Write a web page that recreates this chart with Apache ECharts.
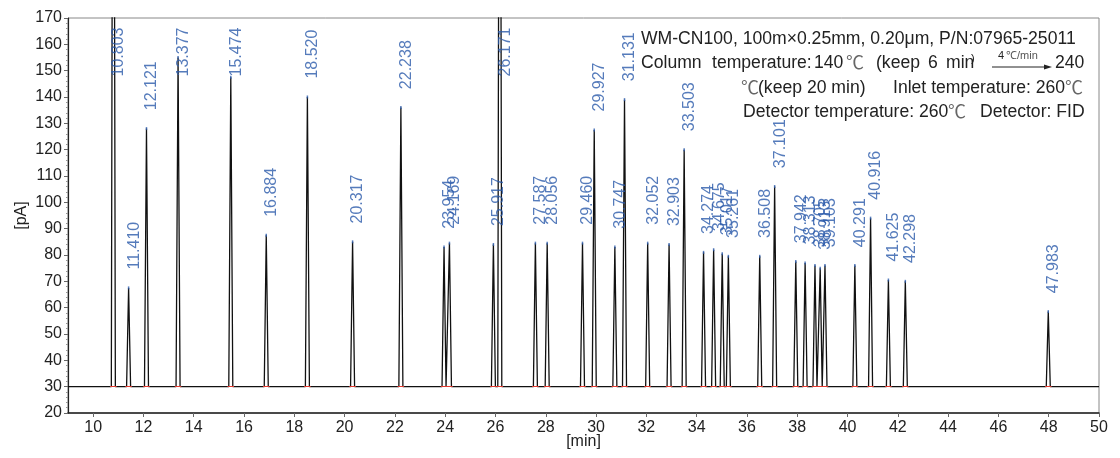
<!DOCTYPE html>
<html>
<head>
<meta charset="utf-8">
<script src="https://cdn.jsdelivr.net/npm/echarts@6/dist/echarts.min.js"></script>
<style>
  html, body { margin: 0; padding: 0; background: #fff; }
  #chart { width: 1120px; height: 458px; }
</style>
</head>
<body>
<div id="chart"></div>
<script>
// retention times (min) and apex heights (pA)
var retentionTimes = [10.803, 11.410, 12.121, 13.377, 15.474, 16.884, 18.520, 20.317, 22.238,
    23.954, 24.169, 25.917, 26.171, 27.587, 28.056, 29.460, 29.927, 30.747, 31.131, 32.052,
    32.903, 33.503, 34.274, 34.675, 35.017, 35.261, 36.508, 37.101, 37.942, 38.313, 38.705,
    38.913, 39.103, 40.291, 40.916, 41.625, 42.298, 47.983];
var peakHeights = [400, 67.5, 128, 155, 147.5, 87.5, 140, 85, 136,
    83, 84.5, 84, 400, 84.5, 84.5, 84.5, 127.5, 83, 139, 84.5,
    84, 120, 81, 82, 80.5, 79.5, 79.5, 106, 77.5, 77, 76,
    75, 76, 76, 94, 70.5, 70, 58.5];
var baselineLevel = 30;
var xTickLabels = [10, 12, 14, 16, 18, 20, 22, 24, 26, 28, 30, 32, 34, 36, 38, 40, 42, 44, 46, 48, 50];

var chart = echarts.init(document.getElementById('chart'));

// signal trace: baseline with a narrow peak at every retention time
var halfWidth = 0.08;
var trace = [[9, baselineLevel]];
retentionTimes.forEach(function (t, i) {
    trace.push([t - halfWidth, baselineLevel]);
    trace.push([t, peakHeights[i]]);
    trace.push([t + halfWidth, baselineLevel]);
});
trace.push([50, baselineLevel]);

// integration marks under each peak
var baseMarks = retentionTimes.map(function (t) {
    return { coords: [[t - 0.13, baselineLevel], [t + 0.13, baselineLevel]] };
});

// label anchors: a little above the apex, but kept under the top of the frame
var labelAnchors = retentionTimes.map(function (t, i) {
    return { value: [t, Math.min(peakHeights[i] + 6.8, 147.6)], name: t.toFixed(3) };
});

var blue = '#2a5aaa';
var textFont = '17.6px "Liberation Sans", Arial, sans-serif';
var degFont = '18px "Noto Sans CJK SC", sans-serif';
var dark = '#222';

function txt(x, y, s, font, color) {
    return {
        type: 'text', x: x, y: y, z: 10,
        style: { text: s, font: font || textFont, fill: color || dark, verticalAlign: 'middle' }
    };
}
function deg(x, y) {
    return txt(x, y - 1, '℃', degFont, '#666');
}

var option = {
    backgroundColor: '#fff',
    animation: false,
    grid: {
        left: 68, right: 21, top: 18, bottom: 45, containLabel: false, outerBoundsMode: 'none',
        show: true, borderColor: '#888', borderWidth: 1
    },
    xAxis: {
        type: 'value', min: 9, max: 50,
        name: '[min]', nameLocation: 'middle', nameGap: 21, nameMoveOverlap: false,
        nameTextStyle: { fontSize: 16, color: dark, fontFamily: 'Liberation Sans', verticalAlign: 'top' },
        axisLine: { onZero: false, lineStyle: { color: '#222', width: 1.5 } },
        axisTick: { show: true, customValues: xTickLabels, length: 4, lineStyle: { color: '#666' } },
        axisLabel: { customValues: xTickLabels, fontSize: 16, color: dark, fontFamily: 'Liberation Sans', margin: 7 },
        splitLine: { show: false }
    },
    yAxis: {
        type: 'value', min: 20, max: 170, interval: 10,
        name: '[pA]', nameLocation: 'middle', nameGap: 38, nameRotate: 90, nameMoveOverlap: false,
        nameTextStyle: { fontSize: 16, color: dark, fontFamily: 'Liberation Sans' },
        axisLine: { show: true, lineStyle: { color: '#222', width: 1.2 } },
        axisTick: { show: true, length: 4, lineStyle: { color: '#666' } },
        minorTick: { show: true, splitNumber: 5, length: 2, lineStyle: { color: '#999' } },
        axisLabel: { fontSize: 16, color: dark, fontFamily: 'Liberation Sans', margin: 6 },
        splitLine: { show: false }
    },
    series: [
        {
            type: 'line', data: trace, showSymbol: false, clip: true,
            lineStyle: { color: '#111', width: 1.3 }, z: 3
        },
        {
            type: 'lines', coordinateSystem: 'cartesian2d', data: baseMarks,
            lineStyle: { color: '#e53a2f', width: 1, opacity: 1 }, z: 4
        },
        {
            type: 'scatter', data: retentionTimes.map(function (t, i) { return [t, peakHeights[i]]; }),
            symbol: 'rect', symbolSize: [1.5, 3], itemStyle: { color: blue }, z: 5, clip: true
        },
        {
            type: 'scatter', data: labelAnchors, symbolSize: 1,
            itemStyle: { color: 'rgba(0,0,0,0)' }, z: 6,
            label: {
                show: true, position: [6, 0], rotate: 90, align: 'left', verticalAlign: 'middle',
                formatter: '{b}', color: blue, fontSize: 16, fontFamily: 'Liberation Sans'
            }
        }
    ],
    graphic: [
        txt(641, 39, 'WM-CN100, 100m×0.25mm, 0.20μm, P/N:07965-25011'),
        txt(641, 63, 'Column'),
        txt(712, 63, 'temperature:'),
        txt(814, 63, '140'),
        deg(846, 63),
        txt(876, 63, '(keep'),
        txt(928, 63, '6'),
        txt(946, 63, 'min'),
        txt(971, 59, ')', '11px "Liberation Sans", Arial, sans-serif'),
        txt(998, 56, '4 ', '11px "Liberation Sans", Arial, sans-serif'),
        txt(1006, 56, '℃/min', '11px "Liberation Sans", Arial, sans-serif', '#555'),
        {
            type: 'line', z: 10, shape: { x1: 992, y1: 67, x2: 1048, y2: 67 },
            style: { stroke: dark, lineWidth: 1 }
        },
        {
            type: 'polygon', z: 10, shape: { points: [[1052, 67], [1044, 64.5], [1044, 69.5]] },
            style: { fill: dark }
        },
        txt(1055, 63, '240'),
        deg(741, 88),
        txt(758, 88, '(keep 20 min)'),
        txt(893, 88, 'Inlet temperature: 260'),
        deg(1065, 88),
        txt(743, 112, 'Detector temperature: 260'),
        deg(948, 112),
        txt(980, 112, 'Detector: FID')
    ]
};

chart.setOption(option);
</script>
</body>
</html>
